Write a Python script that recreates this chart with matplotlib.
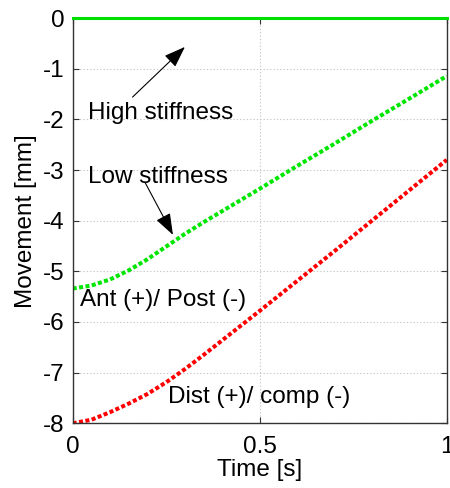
import matplotlib
matplotlib.use("Agg")
import matplotlib.pyplot as plt

plt.rcParams["font.family"] = ["Liberation Sans", "DejaVu Sans"]
plt.rcParams["axes.unicode_minus"] = False

# time axis and the three movement curves [mm]
t = [0.0, 0.05, 0.1, 0.15, 0.2, 0.25, 0.3, 0.35, 0.4, 0.5, 0.6, 0.7, 0.8, 0.9, 1.0]
high_stiff = [0.0] * len(t)
low_ant = [-5.34, -5.28, -5.16, -4.98, -4.76, -4.51, -4.26, -4.03, -3.81,
           -3.37, -2.92, -2.48, -2.03, -1.59, -1.145]
low_dist = [-8.0, -7.93, -7.78, -7.61, -7.42, -7.19, -6.93, -6.65, -6.36,
            -5.78, -5.19, -4.60, -4.00, -3.40, -2.80]

xticks = [0, 0.5, 1]
xtick_labels = ["0", "0.5", "1"]
yticks = [0, -1, -2, -3, -4, -5, -6, -7, -8]

FS = 17.5

fig = plt.figure(figsize=(4.5, 4.88), dpi=100)
ax = fig.add_axes([0.1616, 0.1326, 0.9927 - 0.1616, 0.963 - 0.1326])

ax.plot(t, high_stiff, color="#00e000", lw=2.2, clip_on=False, zorder=5)
ax.plot(t, low_ant, color="#00e600", lw=2.9, dashes=(1, 0.6))
ax.plot(t, low_dist, color="#ff0000", lw=2.9, dashes=(1, 0.6))

ax.set_xlim(0, 1)
ax.set_ylim(-8, 0)
ax.set_xticks(xticks)
ax.set_xticklabels(xtick_labels)
ax.set_yticks(yticks)
ax.grid(True, color="#c8c8c8", ls=(0, (1.2, 1.8)), lw=0.8)
ax.tick_params(direction="in", length=4, top=True, right=True,
               labelsize=FS, color="#333333", pad=6)
ax.tick_params(axis="x", pad=9)
for s in ax.spines.values():
    s.set_color("#333333")
    s.set_linewidth(1.0)

ax.set_xlabel("Time [s]", fontsize=FS, labelpad=1)
ax.set_ylabel("Movement [mm]", fontsize=FS, labelpad=4)

arrow = dict(arrowstyle="-|>,head_length=1.1,head_width=0.4",
             color="black", lw=0.8, shrinkA=0, shrinkB=0, mutation_scale=12)
ax.annotate("", xy=(0.30, -0.57), xytext=(0.16, -1.56), arrowprops=arrow)
ax.annotate("", xy=(0.268, -4.28), xytext=(0.193, -3.24), arrowprops=arrow)

ax.text(0.040, -1.88, "High stiffness", fontsize=FS, va="center", ha="left")
ax.text(0.040, -3.13, "Low stiffness", fontsize=FS, va="center", ha="left")
ax.text(0.020, -5.57, "Ant (+)/ Post (-)", fontsize=FS, va="center", ha="left")
ax.text(0.255, -7.48, "Dist (+)/ comp (-)", fontsize=FS, va="center", ha="left")

fig.savefig("out.png", dpi=100)
